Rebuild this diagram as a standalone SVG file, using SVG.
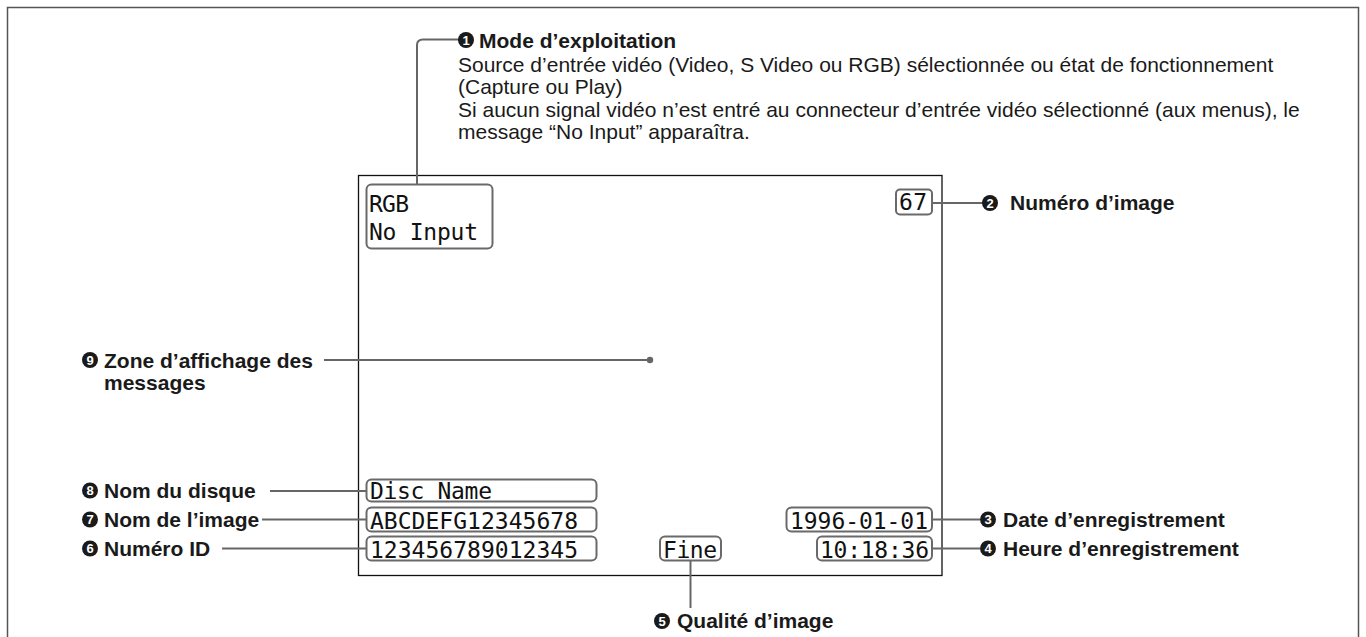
<svg xmlns="http://www.w3.org/2000/svg" width="1366" height="637" viewBox="0 0 1366 637">
<style>
.frame{fill:none;stroke:#555;stroke-width:1.5}
.screen{fill:none;stroke:#111;stroke-width:1.3}
.box{fill:#fff;stroke:#6a6a6a;stroke-width:2}
.lcd{font-family:"DejaVu Sans Mono","Liberation Mono",monospace;font-size:23px;fill:#111}
.lbl{font-family:"Liberation Sans",Arial,sans-serif;font-size:21px;font-weight:bold;fill:#1a1a1a}
.txt{font-family:"Liberation Sans",Arial,sans-serif;font-size:21px;fill:#1a1a1a}
.num circle{fill:#1a1a1a}
.num text{font-family:"Liberation Sans",Arial,sans-serif;font-size:13px;font-weight:bold;fill:#fff;text-anchor:middle}
.lead{fill:none;stroke:#666;stroke-width:2}
</style>
<path class="frame" d="M7.5 640 V7.5 H1358.5 V640"/>
<rect id="screen" class="screen" x="358.5" y="175.5" width="583.5" height="400"/>
<g id="connectors">
<path class="lead" d="M417 184 V45 Q417 39.5 423 39.5 H459"/>
<path class="lead" d="M932 203 H983"/>
<path class="lead" d="M932 519.5 H980"/>
<path class="lead" d="M932 548.5 H980"/>
<path class="lead" d="M690.5 560.5 V608"/>
<path class="lead" d="M222 548.5 H366.5"/>
<path class="lead" d="M262 519.5 H366.5"/>
<path class="lead" d="M270 491 H366.5"/>
<path class="lead" d="M324 360 H650"/>
<circle cx="650" cy="360" r="3.2" fill="#666"/>
</g>
<g id="n-mode">
<rect class="box" x="366.5" y="184.5" width="126" height="64" rx="5"/>
<text class="lcd" x="369" y="212" textLength="40">RGB</text>
<text class="lcd" x="369" y="240" textLength="109">No Input</text>
</g>
<g id="n-numero">
<rect class="box" x="896" y="189.5" width="36" height="25" rx="4"/>
<text class="lcd" x="899" y="210" textLength="28">67</text>
</g>
<g id="n-disc">
<rect class="box" x="366.5" y="479.5" width="230" height="22" rx="5"/>
<text class="lcd" x="370" y="499" textLength="122">Disc Name</text>
</g>
<g id="n-nom">
<rect class="box" x="366.5" y="507.5" width="230" height="24" rx="5"/>
<text class="lcd" x="370" y="528.5" textLength="208">ABCDEFG12345678</text>
</g>
<g id="n-id">
<rect class="box" x="366.5" y="536.5" width="230" height="24" rx="5"/>
<text class="lcd" x="370" y="557.5" textLength="208">123456789012345</text>
</g>
<g id="n-fine">
<rect class="box" x="660" y="536.5" width="61" height="24" rx="5"/>
<text class="lcd" x="663" y="557.5" textLength="54">Fine</text>
</g>
<g id="n-date">
<rect class="box" x="786.5" y="507.5" width="145.5" height="24" rx="5"/>
<text class="lcd" x="790" y="528.5" textLength="138">1996-01-01</text>
</g>
<g id="n-heure">
<rect class="box" x="817" y="536.5" width="115" height="24" rx="5"/>
<text class="lcd" x="820" y="557.5" textLength="109">10:18:36</text>
</g>
<g id="l1">
<g class="num"><circle cx="466" cy="40" r="8"/><text x="466" y="44.7">1</text></g>
<text class="lbl" x="479" y="47.5">Mode d’exploitation</text>
<text class="txt" x="458" y="71.5">Source d’entrée vidéo (Video, S Video ou RGB) sélectionnée ou état de fonctionnement</text>
<text class="txt" x="458" y="94">(Capture ou Play)</text>
<text class="txt" x="458" y="116.5">Si aucun signal vidéo n’est entré au connecteur d’entrée vidéo sélectionné (aux menus), le</text>
<text class="txt" x="458" y="139">message “No Input” apparaîtra.</text>
</g>
<g id="l2">
<g class="num"><circle cx="990" cy="203" r="8"/><text x="990" y="207.7">2</text></g>
<text class="lbl" x="1010" y="210">Numéro d’image</text>
</g>
<g id="l3">
<g class="num"><circle cx="988" cy="519.5" r="8"/><text x="988" y="524.2">3</text></g>
<text class="lbl" x="1003" y="527">Date d’enregistrement</text>
</g>
<g id="l4">
<g class="num"><circle cx="988" cy="548.5" r="8"/><text x="988" y="553.2">4</text></g>
<text class="lbl" x="1003" y="556">Heure d’enregistrement</text>
</g>
<g id="l5">
<g class="num"><circle cx="662" cy="621" r="8"/><text x="662" y="625.7">5</text></g>
<text class="lbl" x="677" y="628">Qualité d’image</text>
</g>
<g id="l6">
<g class="num"><circle cx="90" cy="548.5" r="8"/><text x="90" y="553.2">6</text></g>
<text class="lbl" x="104" y="556">Numéro ID</text>
</g>
<g id="l7">
<g class="num"><circle cx="90" cy="519.5" r="8"/><text x="90" y="524.2">7</text></g>
<text class="lbl" x="104" y="527">Nom de l’image</text>
</g>
<g id="l8">
<g class="num"><circle cx="90" cy="490.5" r="8"/><text x="90" y="495.2">8</text></g>
<text class="lbl" x="104" y="498">Nom du disque</text>
</g>
<g id="l9">
<g class="num"><circle cx="90" cy="360" r="8"/><text x="90" y="364.7">9</text></g>
<text class="lbl" x="104" y="367.5">Zone d’affichage des</text>
<text class="lbl" x="104" y="389.5">messages</text>
</g>
</svg>
